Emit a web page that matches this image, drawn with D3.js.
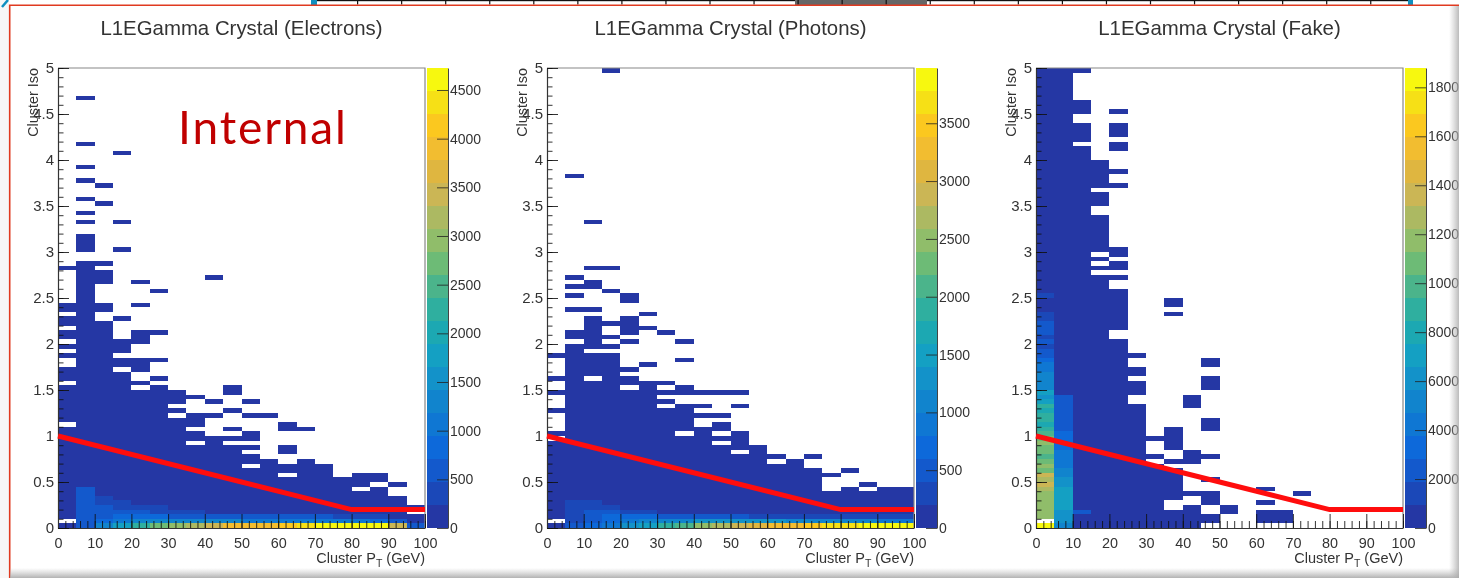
<!DOCTYPE html>
<html>
<head>
<meta charset="utf-8">
<title>L1EGamma Crystal</title>
<script src="https://d3js.org/d3.v7.min.js"></script>
<style>
  html, body { margin: 0; padding: 0; background: #fff; overflow: hidden; }
  svg { display: block; filter: blur(0.7px); }
  text { font-family: "Liberation Sans", Arial, sans-serif; fill: #333; }
</style>
</head>
<body>
<div class="canvas"></div>
<script>
// tick labels and axis text
const xTicks = [0, 10, 20, 30, 40, 50, 60, 70, 80, 90, 100];
const xMinorTicks = d3.range(0, 101, 2);
const yTicks = [0, 0.5, 1, 1.5, 2, 2.5, 3, 3.5, 4, 4.5, 5];
const yMinorTicks = d3.range(0, 51).map(d => d / 10);
const electronsBarTicks = [0, 500, 1000, 1500, 2000, 2500, 3000, 3500, 4000, 4500];
const electronsBarLabels = electronsBarTicks.map(String);
const photonsBarTicks = [0, 500, 1000, 1500, 2000, 2500, 3000, 3500];
const photonsBarLabels = photonsBarTicks.map(String);
const fakeBarTicks = [0, 2000, 4000, 6000, 8000, 10000, 12000, 14000, 16000, 18000];
// the slide cuts the last digit off the five digit ones, so the picture reads like this
const fakeBarLabels = ['0', '2000', '4000', '6000', '8000', '1000', '1200', '1400', '1600', '1800'];

// cut line, pT vs iso
const cutPt = [0, 80, 100];
const cutIso = [1, 0.2, 0.2];

// colour bar, low to high
const barColors = ['#2537a4', '#1b48b8', '#1359cc', '#0d69da', '#0f77d3', '#1184cd', '#1392c9', '#14a0c3', '#1ca8b2', '#2faf9f',
  '#4bb48b', '#6dbb76', '#90bd6a', '#acb962', '#cbb655', '#dfb640', '#f2bd30', '#fbc81f', '#f6e016', '#f7f80f'];

// occupied iso ranges per 5 GeV column
const electronsRuns = [
  [[2.80, 2.85], [2.35, 2.45], [2.20, 2.30], [2.05, 2.15], [1.95, 2.00], [1.85, 1.90], [1.60, 1.75], [1.15, 1.55], [0.10, 1.10], [0, 0.05]],
  [[4.65, 4.70], [4.15, 4.20], [3.90, 3.95], [3.75, 3.80], [3.55, 3.60], [3.40, 3.45], [3.30, 3.35], [3.00, 3.20], [0, 2.90]],
  [[3.70, 3.75], [3.50, 3.55], [2.85, 2.90], [2.65, 2.80], [2.35, 2.45], [0, 2.25]],
  [[4.05, 4.10], [3.30, 3.35], [3.00, 3.05], [2.25, 2.30], [1.90, 2.05], [1.75, 1.85], [0, 1.70]],
  [[2.65, 2.70], [2.40, 2.45], [2.00, 2.15], [1.70, 1.85], [1.55, 1.60], [0, 1.50]],
  [[2.55, 2.60], [2.10, 2.15], [1.80, 1.85], [1.60, 1.65], [0, 1.55]],
  [[1.35, 1.50], [1.25, 1.30], [0, 1.20]],
  [[1.40, 1.45], [1.10, 1.25], [0.95, 1.05], [0, 0.90]],
  [[2.70, 2.75], [1.35, 1.40], [1.20, 1.25], [0, 1.00]],
  [[1.45, 1.55], [1.25, 1.30], [1.05, 1.10], [0.95, 1.00], [0, 0.90]],
  [[1.35, 1.40], [1.20, 1.25], [0.95, 1.05], [0.85, 0.90], [0.70, 0.80], [0, 0.65]],
  [[1.20, 1.25], [0, 0.75]],
  [[1.05, 1.15], [0.80, 0.90], [0.60, 0.70], [0, 0.55]],
  [[1.05, 1.10], [0, 0.75]],
  [[0, 0.70]],
  [[0, 0.55]],
  [[0.45, 0.60], [0, 0.40]],
  [[0.50, 0.60], [0, 0.45]],
  [[0.45, 0.50], [0, 0.35]],
  [[0.20, 0.25], [0, 0.15]]
];

const photonsRuns = [
  [[1.85, 1.90], [1.60, 1.65], [1.45, 1.50], [1.25, 1.30], [1.00, 1.05], [0.10, 0.95], [0, 0.05]],
  [[3.80, 3.85], [2.70, 2.75], [2.60, 2.65], [2.50, 2.55], [2.35, 2.40], [2.05, 2.15], [0, 2.00]],
  [[3.30, 3.35], [2.80, 2.85], [2.60, 2.70], [2.35, 2.40], [1.95, 2.30], [1.65, 1.90], [0, 1.60]],
  [[4.95, 5.00], [2.80, 2.85], [2.55, 2.60], [2.20, 2.25], [2.05, 2.10], [1.95, 2.00], [0, 1.90]],
  [[2.45, 2.55], [2.10, 2.30], [2.00, 2.05], [1.70, 1.75], [1.55, 1.65], [0, 1.50]],
  [[2.30, 2.35], [2.15, 2.20], [1.75, 1.80], [0, 1.60]],
  [[2.10, 2.15], [1.55, 1.60], [1.45, 1.50], [1.35, 1.40], [0, 1.30]],
  [[2.00, 2.05], [1.80, 1.85], [1.45, 1.55], [1.05, 1.35], [0, 1.00]],
  [[1.45, 1.50], [1.30, 1.35], [1.20, 1.25], [0, 1.10]],
  [[1.45, 1.50], [1.20, 1.25], [1.05, 1.15], [0.95, 1.00], [0, 0.90]],
  [[1.45, 1.50], [1.30, 1.35], [0.85, 1.05], [0, 0.80]],
  [[0, 0.90]],
  [[0.75, 0.80], [0, 0.70]],
  [[0, 0.75]],
  [[0.75, 0.80], [0, 0.65]],
  [[0.55, 0.60], [0, 0.40]],
  [[0.60, 0.65], [0, 0.45]],
  [[0.45, 0.50], [0, 0.40]],
  [[0, 0.45]],
  [[0, 0.45]]
];

const fakeRuns = [
  [[0.10, 5], [0, 0.05]],
  [[0, 5]],
  [[4.95, 5.00], [4.50, 4.65], [4.20, 4.40], [0, 4.15]],
  [[3.70, 4.00], [3.50, 3.65], [3.00, 3.40], [2.90, 2.95], [2.80, 2.85], [0, 2.75]],
  [[4.50, 4.55], [4.25, 4.40], [4.10, 4.20], [3.85, 3.90], [3.70, 3.75], [2.95, 3.05], [2.80, 2.90], [2.70, 2.75], [2.15, 2.60], [0, 2.05]],
  [[1.85, 1.90], [1.65, 1.75], [1.45, 1.60], [0, 1.35]],
  [[0.95, 1.00], [0.75, 0.80], [0, 0.70]],
  [[2.40, 2.50], [2.30, 2.35], [0.85, 1.10], [0.70, 0.75], [0.30, 0.65], [0, 0.20]],
  [[1.30, 1.45], [0.70, 0.85], [0.35, 0.40], [0, 0.25]],
  [[1.75, 1.85], [1.50, 1.65], [1.05, 1.20], [0.75, 0.80], [0.50, 0.55], [0.25, 0.40], [0.05, 0.15]],
  [[0.15, 0.25]],
  [],
  [[0.40, 0.45], [0.25, 0.30], [0.05, 0.20]],
  [[0.05, 0.20]],
  [[0.35, 0.40]],
  [], [], [], [], []
];

// low iso counts, one row per 0.05 of iso starting at 0, 0 means just the base level
const electronsLow = [
  [150, 500, 1300, 1800, 2300, 2700, 3000, 3300, 3500, 3800, 3900, 4000, 4200, 4400, 4500, 4650, 4700, 4600, 3500, 700],
  [0, 500, 900, 1000, 1200, 1200, 1300, 1300, 1300, 1200, 1100, 1050, 1000, 1000, 1000, 1000, 950, 900, 600, 0],
  [0, 500, 700, 800, 800, 750, 700, 650, 600, 550, 500, 500, 500, 500, 500, 400, 300, 300, 0, 0],
  [0, 500, 600, 600, 500, 350, 350, 300, 0, 0, 0, 0, 0, 0, 0, 0, 0, 0, 0, 0],
  [0, 500, 600, 300, 300, 300, 0, 0, 0, 0, 0, 0, 0, 0, 0, 0, 0, 0, 0, 0],
  [0, 500, 350, 300, 0, 0, 0, 0, 0, 0, 0, 0, 0, 0, 0, 0, 0, 0, 0, 0],
  [0, 500, 300, 0, 0, 0, 0, 0, 0, 0, 0, 0, 0, 0, 0, 0, 0, 0, 0, 0],
  [0, 500, 0, 0, 0, 0, 0, 0, 0, 0, 0, 0, 0, 0, 0, 0, 0, 0, 0, 0],
  [0, 500, 0, 0, 0, 0, 0, 0, 0, 0, 0, 0, 0, 0, 0, 0, 0, 0, 0, 0]
];

const photonsLow = [
  [150, 450, 700, 900, 1250, 1450, 1800, 2100, 2500, 2700, 2900, 3050, 3200, 3350, 3450, 3600, 3750, 3850, 3900, 3950],
  [0, 300, 500, 750, 800, 1000, 1100, 1100, 1200, 1200, 1200, 1200, 1200, 1150, 1100, 1100, 1050, 1000, 950, 900],
  [0, 250, 450, 600, 650, 650, 550, 450, 500, 500, 450, 300, 280, 280, 280, 250, 250, 250, 250, 250],
  [0, 250, 450, 450, 300, 300, 0, 0, 0, 0, 0, 0, 0, 0, 0, 0, 0, 0, 0, 0],
  [0, 250, 280, 250, 0, 0, 0, 0, 0, 0, 0, 0, 0, 0, 0, 0, 0, 0, 0, 0],
  [0, 250, 250, 0, 0, 0, 0, 0, 0, 0, 0, 0, 0, 0, 0, 0, 0, 0, 0, 0]
];

// fake: first two columns hold most of it, iso 0.10 up for col 0, iso 0 up for col 1
const fakeCol0 = [11500, 11500, 11800, 11500, 12000, 12000, 13000, 13500, 13000, 13800, 11000, 11500, 10500, 10000, 11000, 10500,
  11500, 10500, 9500, 8500, 8000, 9000, 8500, 8000, 8500, 7500, 6500, 7000, 5500, 5000, 4800, 5200, 4200, 3900, 3500, 2800, 2200,
  1500, 2300, 1500, 2000, 2000, 1900, 1800, 1600, 900, 900, 900, 1500];
const fakeCol1 = [5000, 6200, 6200, 6200, 7200, 7200, 7200, 7200, 7200, 6000, 6000, 5500, 5500, 4500, 4500, 4000, 4000, 3200, 3000,
  3000, 3000, 2000, 2000, 2000, 2000, 2000, 2000, 2000, 2000];
const fakeBottomCell = [0, 0, 0.05, 18500];
const fakeCol2Cell = [2, 0.15, 0.20, 1900];

const cols = d3.range(20);
const rowsToCells = rows => rows.flatMap((row, r) =>
  row.map((v, c) => [c, r * 0.05, (r + 1) * 0.05, v]).filter(d => d[3] > 0));
const colToCells = (c, start, vals) => vals.map((v, r) => [c, start + r * 0.05, start + (r + 1) * 0.05, v]);

const panels = [
  { name: 'Electrons', left: 58, max: 4726, base: 100, runs: electronsRuns, barTicks: electronsBarTicks, barLabels: electronsBarLabels, hot: rowsToCells(electronsLow) },
  { name: 'Photons', left: 547, max: 3978, base: 60, runs: photonsRuns, barTicks: photonsBarTicks, barLabels: photonsBarLabels, hot: rowsToCells(photonsLow) },
  { name: 'Fake', left: 1036, max: 18790, base: 300, runs: fakeRuns, barTicks: fakeBarTicks, barLabels: fakeBarLabels,
    hot: [fakeBottomCell, fakeCol2Cell, ...colToCells(0, 0.10, fakeCol0), ...colToCells(1, 0, fakeCol1)] }
];

const width = 1459;
const height = 578;
const graphWidth = 367;
const graphHeight = 460;
const graphTop = 68;
const barGap = 2;
const barWidth = 21;

const svg = d3.select('.canvas')
  .append('svg')
  .attr('width', width)
  .attr('height', height);

// slide furniture behind the plots
svg.append('rect').attr('width', width).attr('height', height).attr('fill', '#fff');
svg.append('rect').attr('width', 9).attr('height', height).attr('fill', '#f7f7f7');

const strip = svg.append('g');
strip.append('rect').attr('x', 317).attr('y', 0).attr('width', 1091).attr('height', 1.2).attr('fill', '#111');
strip.append('rect').attr('x', 795).attr('y', 0).attr('width', 132).attr('height', 5).attr('fill', '#666');
strip.selectAll('.stripTick')
  .data(d3.range(357, 1400, 44.05))
  .enter()
  .append('rect')
  .attr('x', d => d)
  .attr('y', 0)
  .attr('width', 1.2)
  .attr('height', 4.5)
  .attr('fill', '#111');
strip.append('rect').attr('x', 311).attr('y', 0).attr('width', 6).attr('height', 5).attr('fill', '#0f8fc0');
strip.append('rect').attr('x', 1408).attr('y', 0).attr('width', 5).attr('height', 5).attr('fill', '#0f8fc0');
strip.append('path').attr('d', 'M2,7 L8,0').attr('stroke', '#0f8fc0').attr('stroke-width', 2.5).attr('fill', 'none');

const panelG = svg.selectAll('.panel')
  .data(panels)
  .enter()
  .append('g')
  .attr('class', 'panel')
  .attr('transform', d => `translate(${d.left}, ${graphTop})`);

panelG.each(function (p) {
  const graph = d3.select(this);

  const x = d3.scaleLinear().domain([0, 100]).range([0, graphWidth]);
  const y = d3.scaleLinear().domain([0, 5]).range([graphHeight, 0]);
  const color = d3.scaleQuantize().domain([0, p.max]).range(barColors);
  const barY = d3.scaleLinear().domain([0, p.max]).range([graphHeight, 0]);

  // occupied bins at base level
  const baseCells = cols.flatMap(c => p.runs[c].map(r => [c, r[0], r[1], p.base]));
  graph.selectAll('.cell')
    .data(baseCells.concat(p.hot))
    .enter()
    .append('rect')
    .attr('class', 'cell')
    .attr('shape-rendering', 'crispEdges')
    .attr('x', d => x(d[0] * 5))
    .attr('width', d => x((d[0] + 1) * 5) - x(d[0] * 5))
    .attr('y', d => y(d[2]))
    .attr('height', d => y(d[1]) - y(d[2]))
    .attr('fill', d => color(d[3]));

  // frame, grey on top and right like the original
  graph.append('path')
    .attr('d', d3.line()([[0, 0], [graphWidth, 0], [graphWidth, graphHeight]]))
    .attr('fill', 'none')
    .attr('stroke', '#888')
    .attr('stroke-width', 1.2);

  // axes, minor ticks first
  const xMinor = graph.append('g')
    .attr('transform', `translate(0, ${graphHeight})`)
    .call(d3.axisBottom(x).tickValues(xMinorTicks).tickSize(-7).tickFormat(''));
  const xAxis = graph.append('g')
    .attr('transform', `translate(0, ${graphHeight})`)
    .call(d3.axisBottom(x).tickValues(xTicks).tickSizeInner(-14).tickSizeOuter(0).tickPadding(10).tickFormat(d3.format('d')));
  const yMinor = graph.append('g')
    .call(d3.axisLeft(y).tickValues(yMinorTicks).tickSize(-5.5).tickFormat(''));
  const yAxis = graph.append('g')
    .call(d3.axisLeft(y).tickValues(yTicks).tickSizeInner(-11).tickSizeOuter(0).tickPadding(4).tickFormat(d3.format('~g')));

  [xMinor, xAxis, yMinor, yAxis].forEach(a => a.selectAll('line').attr('stroke', '#111').attr('opacity', 0.85));
  [xMinor, yMinor].forEach(a => a.select('.domain').remove());
  [xAxis, yAxis].forEach(a => a.select('.domain').attr('stroke', '#333').attr('stroke-width', 1.2));

  xAxis.selectAll('text').style('font-size', '14.4px').attr('fill', '#333');
  yAxis.selectAll('text').style('font-size', '15px').attr('fill', '#333');

  // colour bar
  const bar = graph.append('g')
    .attr('transform', `translate(${graphWidth + barGap}, 0)`);
  bar.selectAll('rect')
    .data(barColors)
    .enter()
    .append('rect')
    .attr('shape-rendering', 'crispEdges')
    .attr('x', 0)
    .attr('width', barWidth)
    .attr('y', (d, i) => barY(color.invertExtent(d)[1]))
    .attr('height', (d, i) => barY(color.invertExtent(d)[0]) - barY(color.invertExtent(d)[1]))
    .attr('fill', d => d);

  const barAxis = bar.append('g')
    .attr('transform', `translate(${barWidth}, 0)`)
    .call(d3.axisRight(barY).tickValues(p.barTicks).tickSizeInner(-11).tickSizeOuter(0).tickPadding(2)
      .tickFormat((d, i) => p.barLabels[i]));
  barAxis.selectAll('line').attr('stroke', '#222').attr('opacity', 0.8);
  barAxis.select('.domain').attr('stroke', '#444').attr('stroke-width', 1);
  barAxis.selectAll('text').style('font-size', '14px').attr('fill', '#333');

  // cut line on top of everything in the plot
  const cutLine = d3.line().x((d, i) => x(d)).y((d, i) => y(cutIso[i]));
  graph.append('path')
    .attr('d', cutLine(cutPt))
    .attr('fill', 'none')
    .attr('stroke', '#ff0d0d')
    .attr('stroke-width', 5);

  // titles
  graph.append('text')
    .attr('x', graphWidth / 2)
    .attr('y', 35 - graphTop)
    .attr('text-anchor', 'middle')
    .style('font-size', '20.4px')
    .text(`L1EGamma Crystal (${p.name})`);

  graph.append('text')
    .attr('transform', 'translate(-20, 0) rotate(-90)')
    .attr('text-anchor', 'end')
    .style('font-size', '14.4px')
    .text('Cluster Iso');

  const xTitle = graph.append('text')
    .attr('x', graphWidth)
    .attr('y', 563 - graphTop)
    .attr('text-anchor', 'end')
    .style('font-size', '14.5px');
  xTitle.append('tspan').text('Cluster P');
  xTitle.append('tspan').attr('dy', 4).style('font-size', '10.5px').text('T');
  xTitle.append('tspan').attr('dy', -4).text(' (GeV)');
});

svg.append('text')
  .attr('x', 178)
  .attr('y', 144)
  .style('font-family', 'Lato, "Open Sans", sans-serif')
  .style('font-size', '46px')
  .style('letter-spacing', '1.9px')
  .style('fill', '#c00000')
  .text('Internal');

// red slide frame and the soft shadows at the edges
svg.append('path')
  .attr('d', 'M9.7,578 L9.7,5.3 L1459,5.3')
  .attr('fill', 'none')
  .attr('stroke', '#e03a20')
  .attr('stroke-width', 1.6);

const defs = svg.append('defs');
const gradBottom = defs.append('linearGradient').attr('id', 'shadeBottom').attr('x1', 0).attr('y1', 0).attr('x2', 0).attr('y2', 1);
gradBottom.append('stop').attr('offset', 0).attr('stop-color', '#bbb').attr('stop-opacity', 0);
gradBottom.append('stop').attr('offset', 1).attr('stop-color', '#aaa').attr('stop-opacity', 0.9);
const gradRight = defs.append('linearGradient').attr('id', 'shadeRight').attr('x1', 0).attr('y1', 0).attr('x2', 1).attr('y2', 0);
gradRight.append('stop').attr('offset', 0).attr('stop-color', '#bbb').attr('stop-opacity', 0);
gradRight.append('stop').attr('offset', 1).attr('stop-color', '#aaa').attr('stop-opacity', 0.8);

svg.append('rect').attr('x', 10).attr('y', 568).attr('width', 1449).attr('height', 10).attr('fill', 'url(#shadeBottom)');
svg.append('rect').attr('x', 1449).attr('y', 6).attr('width', 10).attr('height', 572).attr('fill', 'url(#shadeRight)');
</script>
</body>
</html>
